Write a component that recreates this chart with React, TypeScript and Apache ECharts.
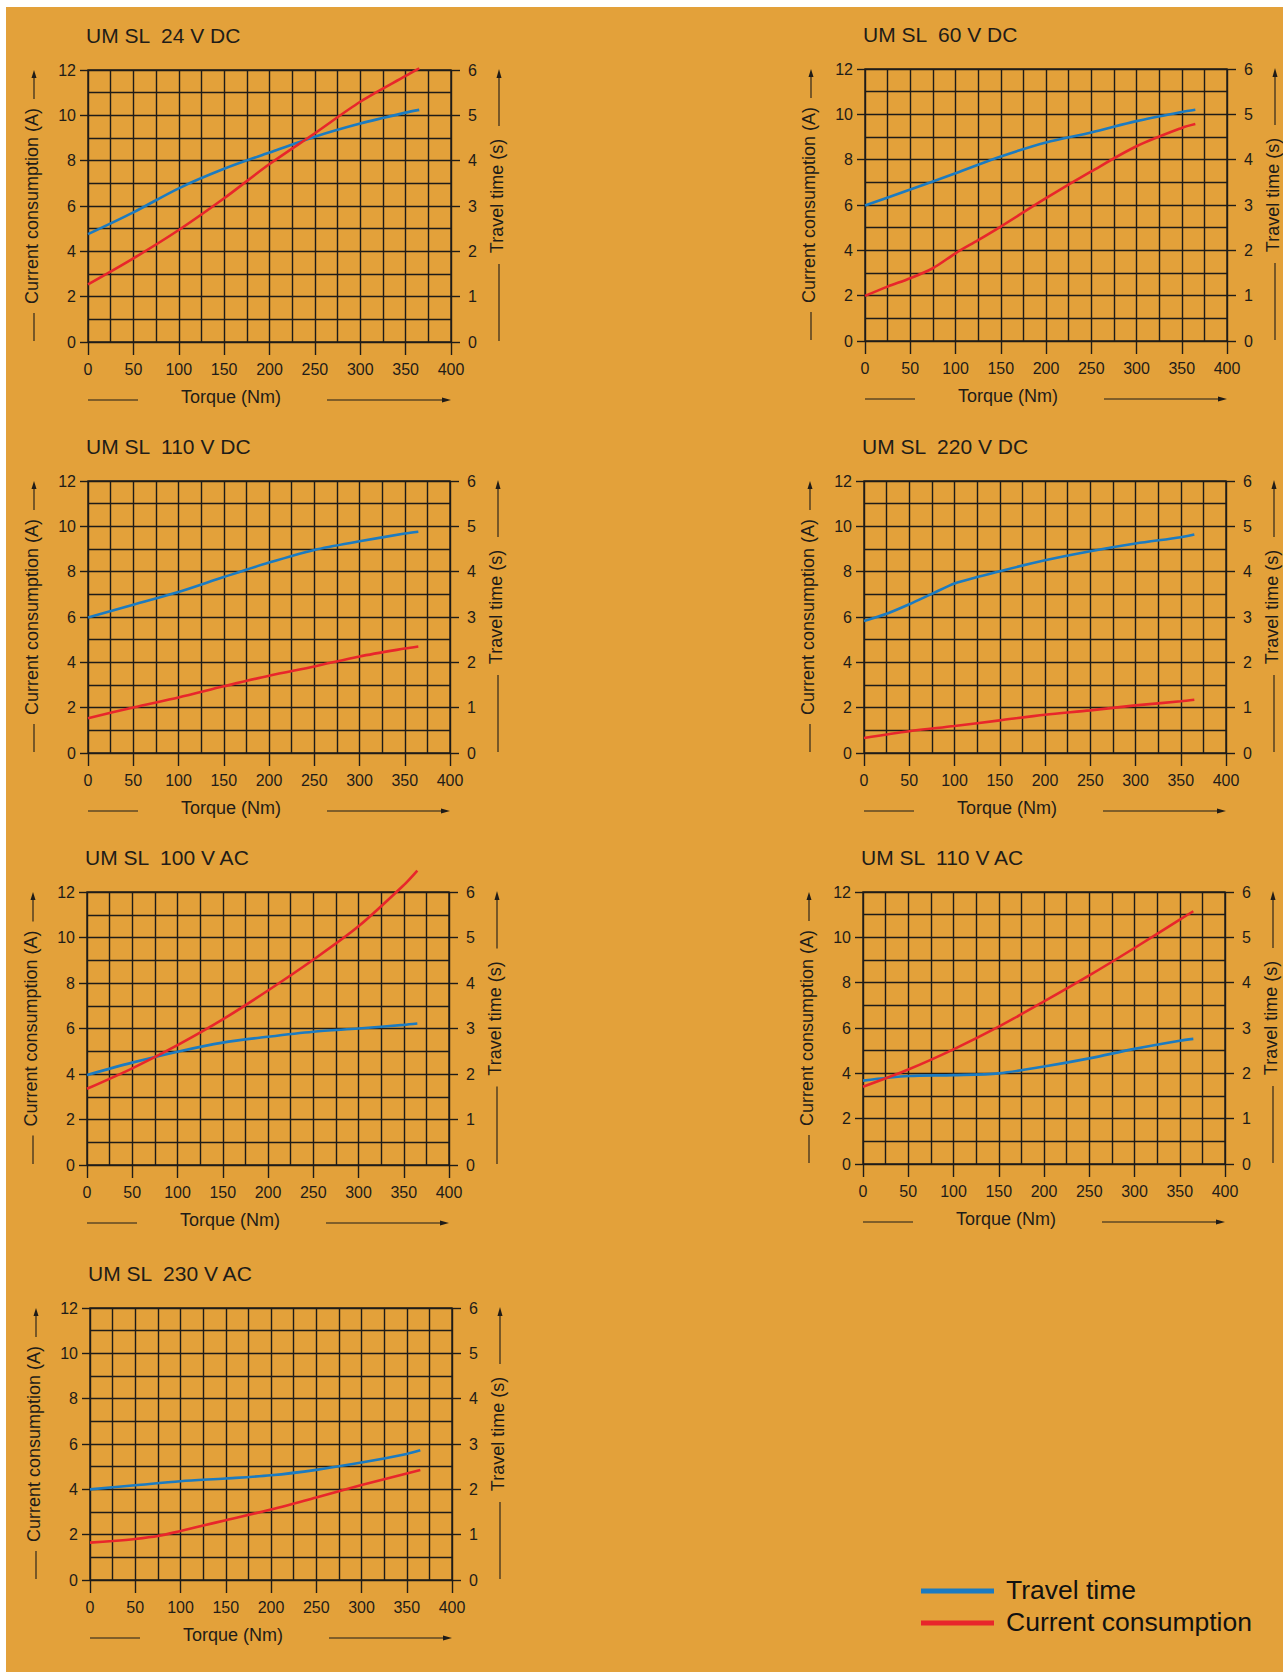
import React, { useEffect, useRef } from "react";
import * as echarts from "echarts";

// ---------- data ----------
const torque = [0, 50, 100, 150, 200, 250, 300, 350, 365];
const torqueFine = [0, 25, 50, 75, 100, 125, 150, 200, 250, 300, 350, 365];

// Travel time (s), right axis; Current consumption (A), left axis
const travel24DC = [2.38, 2.86, 3.39, 3.82, 4.18, 4.53, 4.82, 5.06, 5.12];
const current24DC = [2.54, 3.69, 4.94, 6.34, 7.85, 9.21, 10.6, 11.74, 12.07];

const travel60DC = [2.99, 3.34, 3.7, 4.07, 4.38, 4.6, 4.85, 5.05, 5.1];
const current60DC = [1.99, 2.4, 2.77, 3.21, 3.87, 4.45, 5.05, 6.3, 7.48, 8.59, 9.4, 9.57]; // torqueFine

const travel110DC = [2.99, 3.27, 3.55, 3.88, 4.2, 4.48, 4.67, 4.84, 4.88];
const current110DC = [1.53, 2.01, 2.45, 2.94, 3.41, 3.82, 4.26, 4.61, 4.7];

const travel220DC = [2.91, 3.07, 3.28, 3.51, 3.74, 3.88, 4.01, 4.25, 4.45, 4.62, 4.76, 4.82]; // torqueFine
const current220DC = [0.66, 0.96, 1.19, 1.44, 1.69, 1.88, 2.1, 2.28, 2.35];

const travel100AC = [1.98, 2.25, 2.49, 2.69, 2.82, 2.93, 3.0, 3.08, 3.11];
const current100AC = [3.35, 4.25, 5.27, 6.4, 7.67, 9.02, 10.49, 12.3, 12.94];

const travel110AC = [1.84, 1.94, 1.96, 2.0, 2.15, 2.33, 2.54, 2.72, 2.76];
const current110AC = [3.41, 4.17, 5.06, 6.06, 7.17, 8.32, 9.53, 10.78, 11.15];

const travel230AC = [2.0, 2.09, 2.18, 2.24, 2.31, 2.43, 2.59, 2.78, 2.86];
const current230AC = [1.65, 1.72, 1.81, 1.94, 2.16, 2.4, 2.64, 3.11, 3.64, 4.19, 4.7, 4.85]; // torqueFine

const titles = [
  "UM SL  24 V DC",
  "UM SL  60 V DC",
  "UM SL  110 V DC",
  "UM SL  220 V DC",
  "UM SL  100 V AC",
  "UM SL  110 V AC",
  "UM SL  230 V AC",
];
const leftAxisName = "Current consumption (A)";
const rightAxisName = "Travel time (s)";
const xAxisName = "Torque (Nm)";
const legendNames = ["Travel time", "Current consumption"];

// ---------- styling ----------
const FONT = '"Liberation Sans", Arial, Helvetica, sans-serif';
const INK = "#1f1c18";
const BLUE = "#1b7bc1";
const RED = "#e8262b";
const ORANGE = "#e3a13a";

const zip = (xs: number[], ys: number[]) => xs.map((x, i) => [x, ys[i]]);

const panels = [
  { title: titles[0], left: 88, top: 70, width: 363, height: 272, travel: zip(torque, travel24DC), current: zip(torque, current24DC) },
  { title: titles[1], left: 865, top: 69, width: 362, height: 272, travel: zip(torque, travel60DC), current: zip(torqueFine, current60DC) },
  { title: titles[2], left: 88, top: 481, width: 362, height: 272, travel: zip(torque, travel110DC), current: zip(torque, current110DC) },
  { title: titles[3], left: 864, top: 481, width: 362, height: 272, travel: zip(torqueFine, travel220DC), current: zip(torque, current220DC) },
  { title: titles[4], left: 87, top: 892, width: 362, height: 273, travel: zip(torque, travel100AC), current: zip(torque, current100AC) },
  { title: titles[5], left: 863, top: 892, width: 362, height: 272, travel: zip(torque, travel110AC), current: zip(torque, current110AC) },
  { title: titles[6], left: 90, top: 1308, width: 362, height: 272, travel: zip(torque, travel230AC), current: zip(torqueFine, current230AC) },
];

function textEl(text: string, x: number, y: number, size: number, align: string, rotation = 0, fill = INK) {
  return {
    type: "text",
    x,
    y,
    rotation,
    silent: true,
    style: {
      text,
      fill,
      font: `${size}px ${FONT}`,
      fontSize: size,
      fontFamily: FONT,
      align,
      textAlign: align,
      verticalAlign: "middle",
      textVerticalAlign: "middle",
    },
  };
}

function lineEl(x1: number, y1: number, x2: number, y2: number, width = 1.1, color = INK) {
  return {
    type: "line",
    silent: true,
    shape: { x1, y1, x2, y2 },
    style: { stroke: color, lineWidth: width },
  };
}

function polyEl(points: number[][]) {
  return { type: "polygon", silent: true, shape: { points }, style: { fill: INK } };
}

function buildOption() {
  const grid: any[] = [];
  const xAxis: any[] = [];
  const yAxis: any[] = [];
  const series: any[] = [];
  const graphic: any[] = [];

  const gridLine = { color: INK, width: 1.4 };
  const label = { color: INK, fontSize: 16, fontFamily: FONT };

  panels.forEach((p, i) => {
    grid.push({
      left: p.left,
      top: p.top,
      width: p.width,
      height: p.height,
      show: true,
      borderColor: INK,
      borderWidth: 1.4,
      backgroundColor: "transparent",
      containLabel: false,
    });
    xAxis.push({
      type: "value",
      gridIndex: i,
      min: 0,
      max: 400,
      interval: 50,
      axisLine: { show: false },
      axisTick: { show: true, length: 13, lineStyle: gridLine },
      axisLabel: { ...label, margin: 19 },
      splitLine: { show: true, lineStyle: gridLine },
      minorTick: { show: false, splitNumber: 2 },
      minorSplitLine: { show: true, lineStyle: gridLine },
    });
    yAxis.push({
      type: "value",
      gridIndex: i,
      position: "left",
      min: 0,
      max: 12,
      interval: 2,
      axisLine: { show: false },
      axisTick: { show: true, length: 8, lineStyle: gridLine },
      axisLabel: { ...label, margin: 12 },
      splitLine: { show: true, lineStyle: gridLine },
      minorTick: { show: false, splitNumber: 2 },
      minorSplitLine: { show: true, lineStyle: gridLine },
    });
    yAxis.push({
      type: "value",
      gridIndex: i,
      position: "right",
      min: 0,
      max: 6,
      interval: 1,
      axisLine: { show: false },
      axisTick: { show: true, length: 9, lineStyle: gridLine },
      axisLabel: { ...label, margin: 17 },
      splitLine: { show: false },
    });
    series.push({
      type: "line",
      name: legendNames[0],
      xAxisIndex: i,
      yAxisIndex: 2 * i + 1,
      data: p.travel,
      smooth: 0.3,
      symbol: "none",
      clip: false,
      lineStyle: { color: BLUE, width: 2.6 },
      itemStyle: { color: BLUE },
      z: 5,
    });
    series.push({
      type: "line",
      name: legendNames[1],
      xAxisIndex: i,
      yAxisIndex: 2 * i,
      data: p.current,
      smooth: 0.3,
      symbol: "none",
      clip: false,
      lineStyle: { color: RED, width: 2.6 },
      itemStyle: { color: RED },
      z: 6,
    });

    const right = p.left + p.width;
    const bottom = p.top + p.height;

    // title
    graphic.push(textEl(p.title, p.left - 2, p.top - 35, 21, "left"));

    // left axis name with dash and arrow
    const lcx = p.left - 56;
    const lcy = p.top + p.height / 2;
    const llx = p.left - 54;
    graphic.push(textEl(leftAxisName, lcx, lcy, 18, "center", Math.PI / 2));
    graphic.push(lineEl(llx, lcy + 107, llx, bottom - 1));
    graphic.push(lineEl(llx, lcy - 107, llx, p.top + 6));
    graphic.push(polyEl([[llx - 2.5, p.top + 8], [llx + 2.5, p.top + 8], [llx, p.top]]));

    // right axis name with dash and arrow
    const rcx = right + 46;
    const rcy = p.top + p.height / 2 - 10;
    const rlx = right + 48;
    graphic.push(textEl(rightAxisName, rcx, rcy, 18, "center", Math.PI / 2));
    graphic.push(lineEl(rlx, rcy + 68, rlx, bottom - 1));
    graphic.push(lineEl(rlx, rcy - 70, rlx, p.top + 6));
    graphic.push(polyEl([[rlx - 2.5, p.top + 8], [rlx + 2.5, p.top + 8], [rlx, p.top - 1]]));

    // x axis name with dash and arrow
    const xy = bottom + 58;
    graphic.push(textEl(xAxisName, p.left + 143, bottom + 55, 18, "center"));
    graphic.push(lineEl(p.left, xy, p.left + 50, xy));
    graphic.push(lineEl(p.left + 239, xy, right - 7, xy));
    graphic.push(polyEl([[right - 9, xy - 2.5], [right - 9, xy + 2.5], [right, xy]]));
  });

  // legend
  graphic.push(lineEl(921, 1591, 994, 1591, 5, BLUE));
  graphic.push(lineEl(921, 1623, 994, 1623, 5, RED));
  graphic.push(textEl(legendNames[0], 1006, 1590, 26.5, "left", 0, "#111"));
  graphic.push(textEl(legendNames[1], 1006, 1622, 26.5, "left", 0, "#111"));

  return {
    animation: false,
    backgroundColor: "transparent",
    textStyle: { fontFamily: FONT },
    grid,
    xAxis,
    yAxis,
    series,
    graphic: { elements: graphic },
  };
}

export default function App() {
  const ref = useRef<HTMLDivElement>(null);

  useEffect(() => {
    document.body.style.margin = "0";
    if (!ref.current) return;
    const chart = echarts.init(ref.current, undefined, { renderer: "svg" });
    chart.setOption(buildOption() as any);
    return () => {
      chart.dispose();
    };
  }, []);

  return (
    <div style={{ position: "relative", width: 1283, height: 1672, background: "#ffffff", overflow: "hidden" }}>
      <div style={{ position: "absolute", left: 6, top: 7, width: 1277, height: 1665, background: ORANGE }} />
      <div ref={ref} style={{ position: "absolute", left: 0, top: 0, width: 1283, height: 1672 }} />
    </div>
  );
}
